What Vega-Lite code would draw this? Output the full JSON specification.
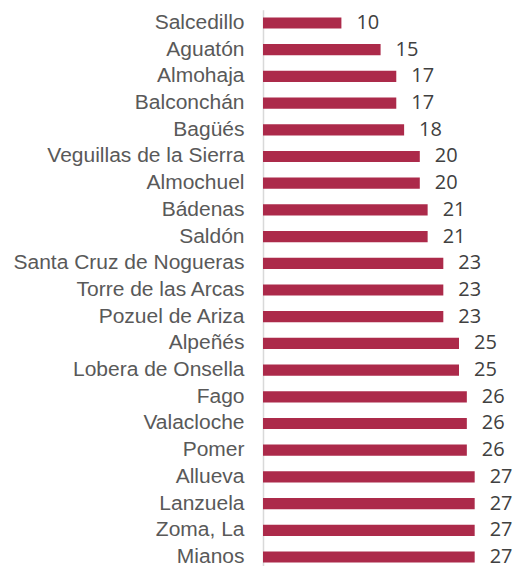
{
  "$schema": "https://vega.github.io/schema/vega-lite/v6.json",
  "autosize": "none",
  "width": 253,
  "height": 560.7,
  "padding": {"left": 263, "top": 9.65, "right": 0, "bottom": 0},
  "background": "white",
  "data": {"values": [
    {"name": "Salcedillo", "value": 10},
    {"name": "Aguatón", "value": 15},
    {"name": "Almohaja", "value": 17},
    {"name": "Balconchán", "value": 17},
    {"name": "Bagüés", "value": 18},
    {"name": "Veguillas de la Sierra", "value": 20},
    {"name": "Almochuel", "value": 20},
    {"name": "Bádenas", "value": 21},
    {"name": "Saldón", "value": 21},
    {"name": "Santa Cruz de Nogueras", "value": 23},
    {"name": "Torre de las Arcas", "value": 23},
    {"name": "Pozuel de Ariza", "value": 23},
    {"name": "Alpeñés", "value": 25},
    {"name": "Lobera de Onsella", "value": 25},
    {"name": "Fago", "value": 26},
    {"name": "Valacloche", "value": 26},
    {"name": "Pomer", "value": 26},
    {"name": "Allueva", "value": 27},
    {"name": "Lanzuela", "value": 27},
    {"name": "Zoma, La", "value": 27},
    {"name": "Mianos", "value": 27}
  ]},
  "config": {"view": {"stroke": null}},
  "encoding": {
    "y": {"field": "name", "type": "nominal", "sort": null,
      "scale": {"paddingInner": 0.58, "paddingOuter": 0.29},
      "axis": {"title": null, "ticks": false, "domainColor": "#D9D9D9", "domainWidth": 1.5,
        "labelFont": "Liberation Sans", "labelFontSize": 21, "labelColor": "#595959", "labelPadding": 19, "labelLimit": 300}},
    "x": {"field": "value", "type": "quantitative", "scale": {"domain": [0, 32.27]}, "axis": null}
  },
  "layer": [
    {"mark": {"type": "bar", "color": "#AC2A4A"}},
    {"mark": {"type": "text", "align": "left", "dx": 15, "dy": 0, "font": "Open Sans", "fontSize": 20, "color": "#404040"},
      "encoding": {"text": {"field": "value", "type": "quantitative"}}}
  ]
}
